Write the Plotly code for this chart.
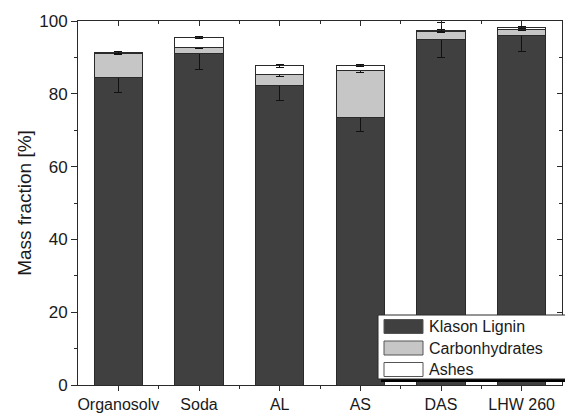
import plotly.graph_objects as go

categories = ["Organosolv", "Soda", "AL", "AS", "DAS", "LHW 260"]
klason = [84.5, 91.1, 82.4, 73.4, 94.9, 95.9]
klason_err = [4.2, 4.5, 4.2, 3.7, 4.8, 4.4]
carbs = [6.6, 1.6, 2.8, 12.9, 2.3, 1.9]
carbs_err = [0.2, 0.3, 0.4, 0.4, 0.3, 0.3]
ashes = [0.3, 2.7, 2.5, 1.4, 0.3, 0.5]
ashes_err = [0.3, 0.3, 0.4, 0.3, 0.3, 0.3]

series_names = ["Klason Lignin", "Carbonhydrates", "Ashes"]
series_colors = ["#404040", "#c6c6c6", "#ffffff"]
series_values = [klason, carbs, ashes]
series_errors = [klason_err, carbs_err, ashes_err]

xpos = list(range(len(categories)))
line_col = "#2a2a2a"
font_fam = "Liberation Sans, Arial, sans-serif"

W, H = 565, 414
ML, MR, MT, MB = 78, 3, 21, 29
PW, PH = W - ML - MR, H - MT - MB


def px(xp):
    return (xp - ML) / PW


def py(yp):
    return (H - MB - yp) / PH


fig = go.Figure()
for name, vals, errs, col in zip(series_names, series_values, series_errors, series_colors):
    fig.add_trace(go.Bar(
        x=xpos, y=vals, name=name, width=0.6, showlegend=False,
        marker=dict(color=col, line=dict(color=line_col, width=1)),
        error_y=dict(type="data", array=errs, visible=True,
                     color="#111111", thickness=1, width=4),
    ))

# invisible trace to carry the mirrored (inward-tick) axes
fig.add_trace(go.Scatter(x=[None], y=[None], xaxis="x2", yaxis="y2",
                         showlegend=False, hoverinfo="skip"))

# legend drawn as a framed box with shadow
shapes = []
box_l, box_r, box_t, box_b = 378, 566, 315, 379
shapes.append(dict(type="rect", xref="paper", yref="paper",
                   x0=px(box_l + 3), x1=px(box_r + 3), y0=py(box_b + 3), y1=py(box_t + 3),
                   fillcolor="black", line=dict(width=0), layer="above"))
shapes.append(dict(type="rect", xref="paper", yref="paper",
                   x0=px(box_l), x1=px(box_r), y0=py(box_b), y1=py(box_t),
                   fillcolor="white", line=dict(color=line_col, width=1), layer="above"))
annotations = []
for i, (name, col) in enumerate(zip(series_names, series_colors)):
    yc = 326.5 + i * 21.5
    shapes.append(dict(type="rect", xref="paper", yref="paper",
                       x0=px(384), x1=px(423), y0=py(yc + 7), y1=py(yc - 7),
                       fillcolor=col, line=dict(color="#555555", width=1), layer="above"))
    annotations.append(dict(xref="paper", yref="paper", x=px(427), y=py(yc),
                            xanchor="left", yanchor="middle", text=name, showarrow=False,
                            font=dict(size=16, family=font_fam, color="#1a1a1a")))

fig.update_layout(
    width=W, height=H,
    margin=dict(l=ML, r=MR, t=MT, b=MB, autoexpand=False),
    barmode="stack",
    plot_bgcolor="white", paper_bgcolor="white",
    font=dict(family=font_fam, size=16, color="#1a1a1a"),
    showlegend=False,
    shapes=shapes,
    annotations=annotations,
    xaxis=dict(
        range=[-0.5, 5.5], tickmode="array", tickvals=xpos, ticktext=categories,
        ticks="outside", ticklen=5, tickwidth=1, tickcolor=line_col,
        showline=True, linecolor=line_col, linewidth=1, mirror=True,
        showgrid=False, zeroline=False,
        minor=dict(tickmode="array", tickvals=[i + 0.5 for i in xpos[:-1]],
                   ticks="outside", ticklen=3, tickcolor=line_col),
        tickfont=dict(size=16),
    ),
    yaxis=dict(
        range=[0, 100], tickmode="linear", tick0=0, dtick=20,
        ticks="outside", ticklen=6, tickwidth=1, tickcolor=line_col,
        showline=True, linecolor=line_col, linewidth=1, mirror=True,
        showgrid=False, zeroline=False,
        minor=dict(dtick=10, ticks="outside", ticklen=3, tickcolor=line_col),
        title=dict(text="Mass fraction [%]", font=dict(size=19), standoff=2),
        tickfont=dict(size=17),
    ),
    xaxis2=dict(
        overlaying="x", side="top", anchor="y", range=[-0.5, 5.5],
        tickmode="array", tickvals=xpos, showticklabels=False,
        ticks="inside", ticklen=5, tickcolor=line_col, showgrid=False,
        zeroline=False, showline=False,
        minor=dict(tickmode="array", tickvals=[i + 0.5 for i in xpos[:-1]],
                   ticks="inside", ticklen=3, tickcolor=line_col),
    ),
    yaxis2=dict(
        overlaying="y", side="right", anchor="x", range=[0, 100],
        tickmode="linear", tick0=0, dtick=20, showticklabels=False,
        ticks="inside", ticklen=5, tickcolor=line_col, showgrid=False,
        zeroline=False, showline=False,
        minor=dict(dtick=10, ticks="inside", ticklen=3, tickcolor=line_col),
    ),
)

fig.write_html("out.html",
               config={"displayModeBar": False},
               post_script="document.body.style.margin='0px';document.body.style.overflow='hidden';")
